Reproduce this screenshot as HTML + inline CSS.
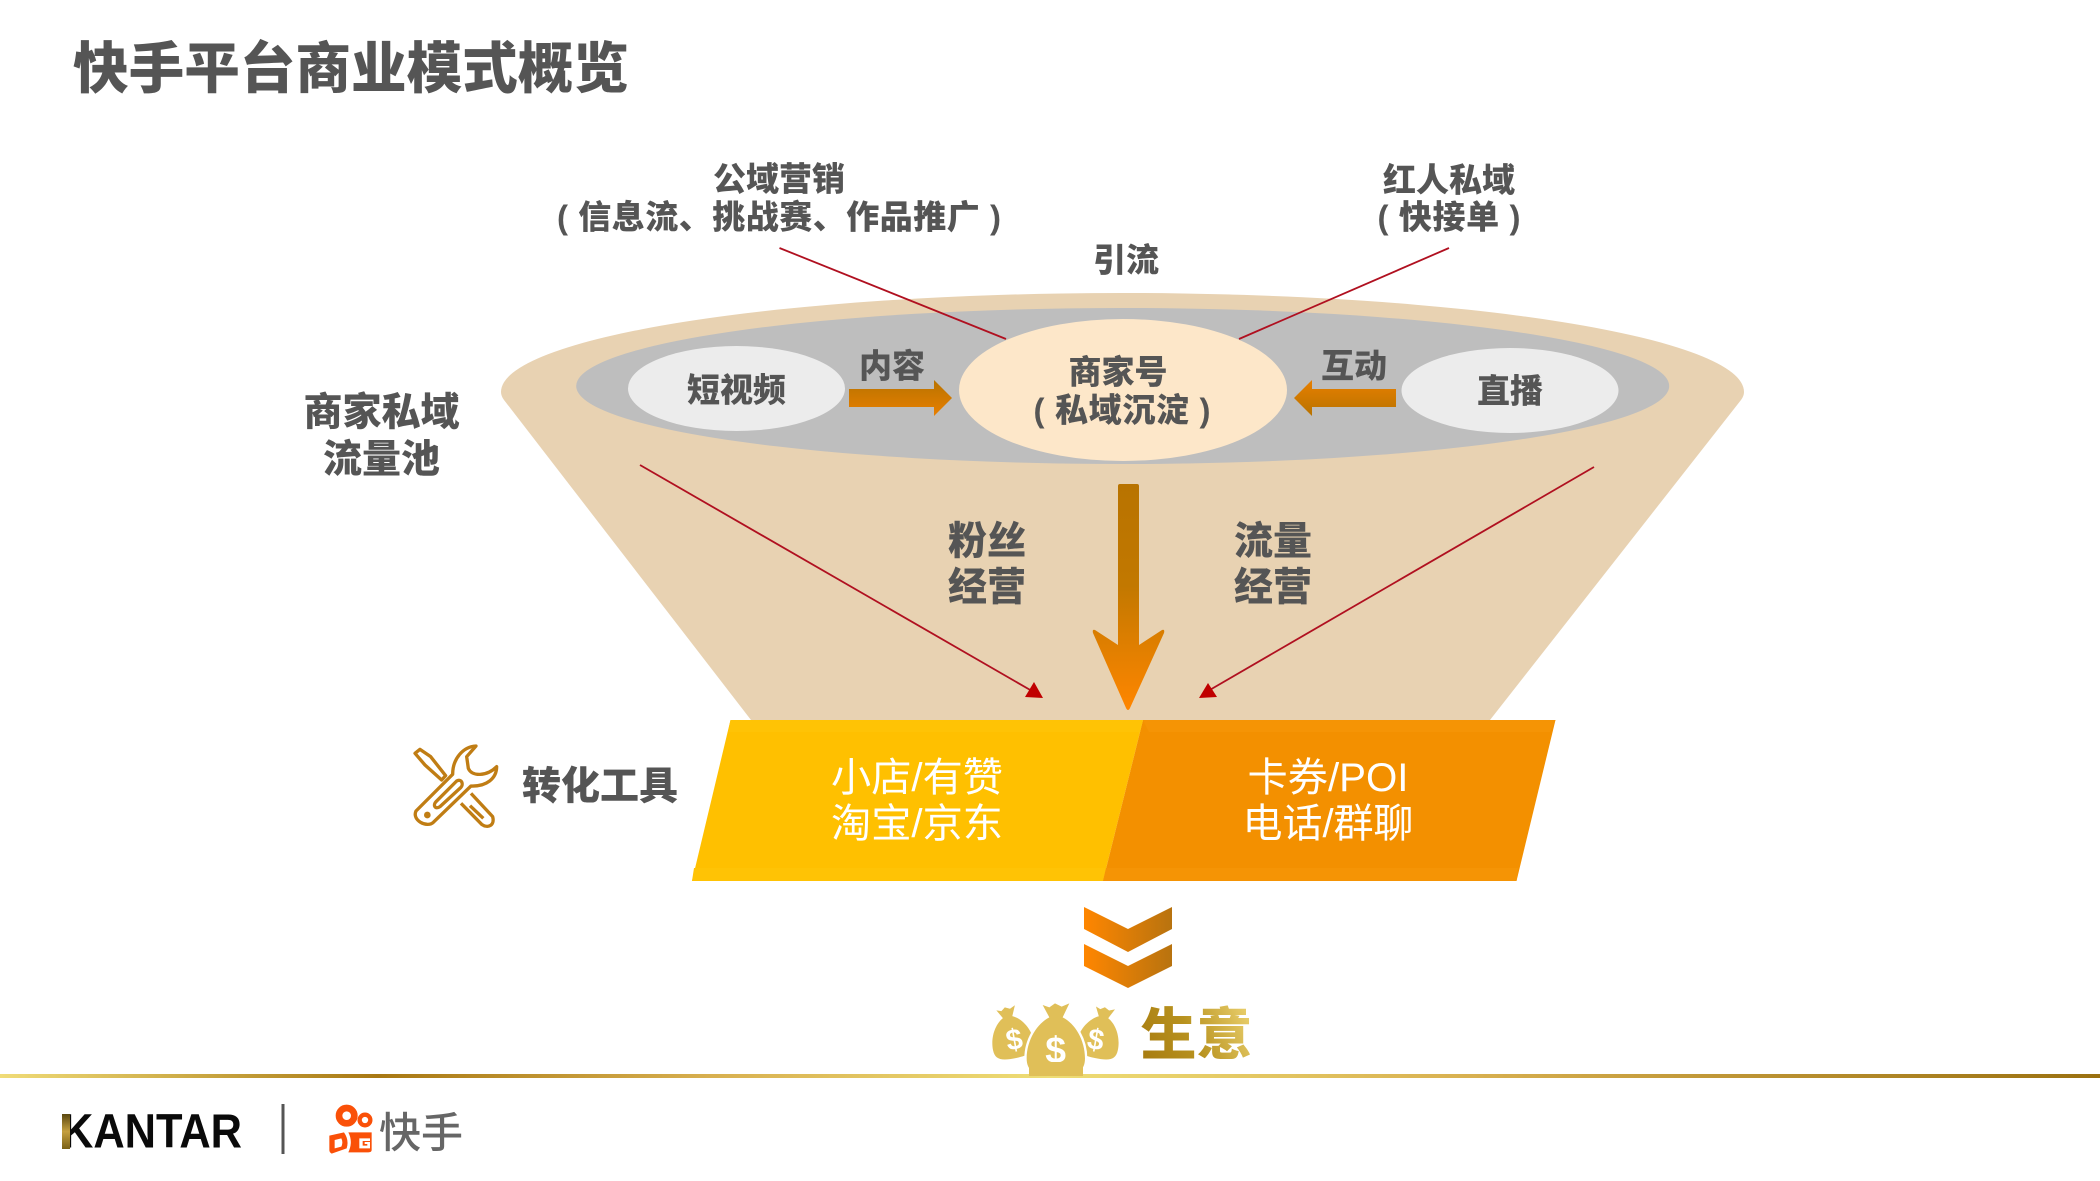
<!DOCTYPE html>
<html><head><meta charset="utf-8">
<style>
html,body{margin:0;padding:0;background:#fff}
svg{display:block}
text{font-family:"Liberation Sans","Noto Sans CJK SC",sans-serif;font-weight:900;fill:#555;text-anchor:middle;dominant-baseline:central}
.w{fill:#fff;font-weight:400}
</style></head><body>
<svg width="2100" height="1181" viewBox="0 0 2100 1181" xmlns="http://www.w3.org/2000/svg">
<defs>
<linearGradient id="ln" x1="0" x2="1" y1="0" y2="0"><stop offset="0" stop-color="#f0dc78"/><stop offset=".18" stop-color="#a87813"/><stop offset=".34" stop-color="#d8b050"/><stop offset=".5" stop-color="#eedd75"/><stop offset=".7" stop-color="#d8b050"/><stop offset="1" stop-color="#9a7010"/></linearGradient>
<linearGradient id="dn" x1="0" x2="0" y1="0" y2="1"><stop offset="0" stop-color="#b87300"/><stop offset=".45" stop-color="#c27800"/><stop offset="1" stop-color="#ff8600"/></linearGradient>
<linearGradient id="ar" x1="0" x2="0" y1="0" y2="1"><stop offset="0" stop-color="#b87300"/><stop offset="1" stop-color="#e87f00"/></linearGradient>
<linearGradient id="ar2" x1="0" x2="0" y1="0" y2="1"><stop offset="0" stop-color="#e87f00"/><stop offset="1" stop-color="#b87300"/></linearGradient>
<linearGradient id="ch" x1="0" x2="1" y1="0" y2="0"><stop offset="0" stop-color="#ff8600"/><stop offset="1" stop-color="#b8730f"/></linearGradient>
<linearGradient id="gd" gradientUnits="userSpaceOnUse" x1="1142" x2="1251" y1="1058" y2="1007"><stop offset="0" stop-color="#a87c10"/><stop offset=".45" stop-color="#b8921f"/><stop offset="1" stop-color="#ecd270"/></linearGradient>
<linearGradient id="kg" x1="0" x2="0" y1="0" y2="1"><stop offset="0" stop-color="#5a4710"/><stop offset=".5" stop-color="#c5a040"/><stop offset="1" stop-color="#7a6015"/></linearGradient>
</defs>
<rect width="2100" height="1181" fill="#fff"/>

<text x="351" y="69" font-size="55.600">快手平台商业模式概览</text>

<path d="M501 392A621.500 99 0 0 1 1744 392Q1744 396 1741 400L1490 720L751 720L504 400Q501 396 501 392Z" fill="#e8d2b2"/>
<ellipse cx="1122.700" cy="386" rx="546.500" ry="78" fill="#bebebe"/>
<ellipse cx="736.500" cy="388.500" rx="108.500" ry="42.500" fill="#ececec"/>
<ellipse cx="1510" cy="390.500" rx="108.500" ry="42.500" fill="#ececec"/>
<ellipse cx="1123" cy="390" rx="164" ry="71" fill="#fde7c9"/>

<g stroke="#b01020" stroke-width="1.800" fill="none">
<path d="M779.500 248L1006 339"/><path d="M1449 248L1239 339"/>
<path d="M640 465L1032 691"/><path d="M1594 467L1208 691"/>
</g>
<path d="M1043 698L1025 697L1034 682Z" fill="#c00000"/>
<path d="M1199 698L1217 697L1208 683Z" fill="#c00000"/>

<path d="M849 389H934V380L952 398L934 416V407H849Z" fill="url(#ar)"/>
<path d="M1396 389H1312V380L1294 398L1312 416V407H1396Z" fill="url(#ar2)"/>
<path d="M1118 486Q1118 484 1120 484H1137Q1139 484 1139 486V645L1162 630Q1165 629 1164 633L1130 708Q1128 712 1126 708L1093 633Q1092 629 1095 630L1118 645Z" fill="url(#dn)"/>

<path d="M730.500 720H1143L1103 881H692Z" fill="#ffc000"/>
<path d="M1143 720H1555.500L1516.500 881H1103Z" fill="#f39000"/>
<path d="M730.500 720H1143L1140 732H728Z" fill="#ffc305"/>
<path d="M1143 720H1555.500L1550 732H1149Z" fill="#f59405"/>
<path d="M694 868H1106L1103 881H692Z" fill="#ffc305"/>
<path d="M1106 868H1518L1516.500 881H1103Z" fill="#f59405"/>

<path d="M1084 907L1128 929L1172 907V929L1128 952L1084 929Z" fill="url(#ch)"/>
<path d="M1084 944L1128 966L1172 944V966L1128 988L1084 966Z" fill="url(#ch)"/>

<g font-size="33">
<text x="779" y="179">公域营销</text>
<text x="779" y="217" xml:space="preserve" textLength="444" lengthAdjust="spacing">( 信息流、挑战赛、作品推广 )</text>
<text x="1449" y="180">红人私域</text>
<text x="1449" y="217" xml:space="preserve" textLength="143" lengthAdjust="spacing">( 快接单 )</text>
<text x="1126" y="260">引流</text>
<text x="892" y="366">内容</text>
<text x="1354" y="366">互动</text>
<text x="736.500" y="390">短视频</text>
<text x="1510" y="391">直播</text>
<text x="1118" y="372">商家号</text>
<text x="1122" y="410" xml:space="preserve" textLength="177" lengthAdjust="spacing">( 私域沉淀 )</text>
</g>
<g font-size="39">
<text x="381.500" y="413">商家私域</text>
<text x="381.500" y="460">流量池</text>
<text x="987" y="542">粉丝</text>
<text x="987" y="588">经营</text>
<text x="1273" y="542">流量</text>
<text x="1273" y="588">经营</text>
<text x="600" y="787">转化工具</text>
<text class="w" x="917" y="778" textLength="172" lengthAdjust="spacingAndGlyphs" font-size="40">小店/有赞</text>
<text class="w" x="917" y="824" textLength="172" lengthAdjust="spacingAndGlyphs" font-size="40">淘宝/京东</text>
<text class="w" x="1328" y="778" textLength="161" lengthAdjust="spacingAndGlyphs" font-size="40">卡券/POI</text>
<text class="w" x="1328" y="824" textLength="171" lengthAdjust="spacingAndGlyphs" font-size="40">电话/群聊</text>
</g>

<g transform="translate(400 735) scale(.3333)" fill="none" stroke="#c07d14" stroke-width="10" stroke-linejoin="round">
<path d="M48 228L158 118C158 70 190 35 228 33L200 65L205 100C215 125 260 125 290 95C290 130 260 155 213 153L100 262C80 280 35 255 48 228Z"/>
<path d="M108 200L170 138C185 130 192 148 182 158L120 215C105 225 98 210 108 200Z"/>
<circle cx="82" cy="240" r="10" fill="#c07d14" stroke="none"/>
<path d="M45 55L60 43L92 65L137 122L125 135L75 90Z"/>
<path d="M213 175L278 245C285 270 265 282 245 268L183 205"/>
<path d="M210 212L250 250"/>
</g>

<g transform="translate(960 890) scale(.3333)">
<g fill="#e0bf58">
<path transform="translate(152 428) rotate(-12) scale(.72) translate(-287 -448)" d="M248 345L268 352L285 340L305 350L328 340L308 382C345 400 375 450 375 505C375 545 350 556 288 556C225 556 200 545 200 505C200 450 232 400 268 382Z"/>
<path transform="translate(420 428) rotate(12) scale(.72) translate(-287 -448)" d="M248 345L268 352L285 340L305 350L328 340L308 382C345 400 375 450 375 505C375 545 350 556 288 556C225 556 200 545 200 505C200 450 232 400 268 382Z"/>
<path stroke="#fff" stroke-width="14" paint-order="stroke" d="M248 345L268 352L285 340L305 350L328 340L308 382C345 400 375 450 375 505C375 545 350 556 288 556C225 556 200 545 200 505C200 450 232 400 268 382Z"/>
</g>
<text x="287" y="478" font-size="112" style="fill:#fff;font-weight:700">$</text>
<text x="163" y="450" font-size="88" style="fill:#fff;font-weight:700" transform="rotate(-10 163 450)">$</text>
<text x="407" y="450" font-size="88" style="fill:#fff;font-weight:700" transform="rotate(10 407 450)">$</text>
</g>
<text x="1196.500" y="1035" font-size="56" style="fill:url(#gd)">生意</text>

<rect x="0" y="1074" width="2100" height="4" fill="url(#ln)"/>
<rect x="1029" y="1062" width="54" height="14" fill="#e0bf58"/>

<text x="152" y="1132" font-size="48" textLength="180" lengthAdjust="spacingAndGlyphs" style="fill:#0a0a0a;font-weight:700">KANTAR</text>
<rect x="62" y="1114" width="8" height="35" fill="url(#kg)"/>
<rect x="281.500" y="1104" width="3" height="50" fill="#555"/>

<g transform="translate(320 1095) scale(.3333)">
<circle cx="80" cy="62" r="23" fill="none" stroke="#fa5008" stroke-width="20"/>
<circle cx="135" cy="75" r="16" fill="none" stroke="#fa5008" stroke-width="13"/>
<path d="M28 122L72 112Q88 135 80 160L35 176Q28 172 28 165Z" fill="#fa5008"/>
<path d="M44 135L64 130Q70 142 64 155L44 160Z" fill="#fff"/>
<path d="M85 112H155V165Q155 172 145 172H85Q100 140 85 112Z" fill="#fa5008"/>
<path d="M118 130H150V138H128V152H142V147H134V141H150V160H118Z" fill="#fff"/>
</g>
<text x="421" y="1133" font-size="42" style="fill:#666;font-weight:500">快手</text>
</svg>
</body></html>
